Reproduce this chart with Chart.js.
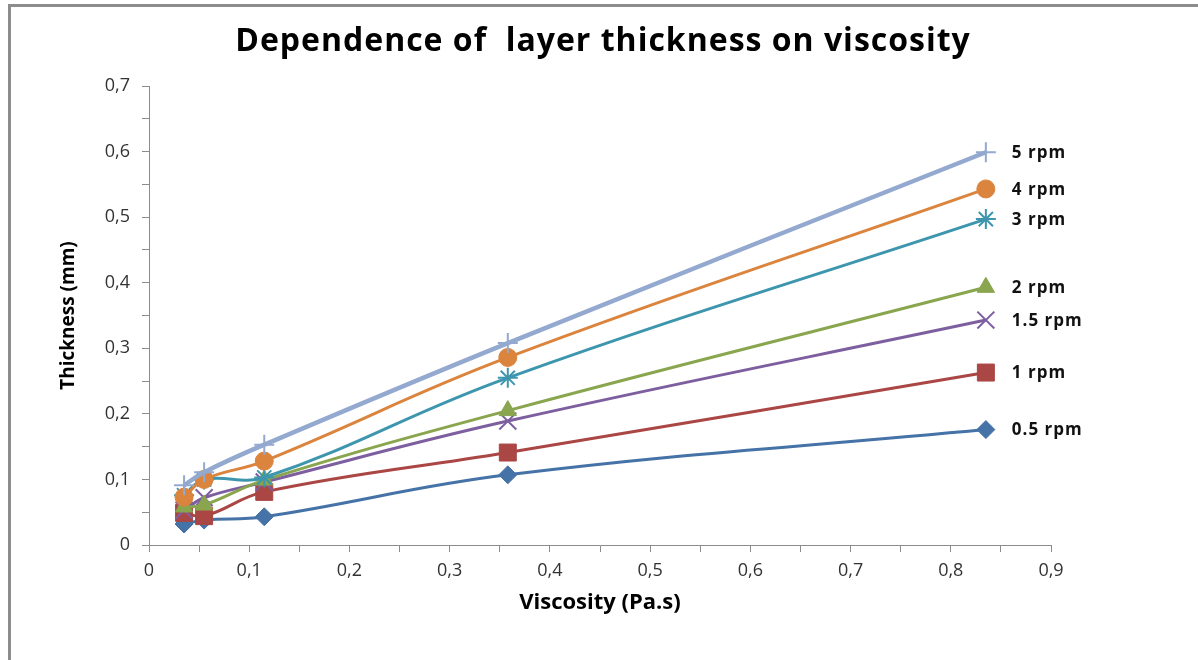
<!DOCTYPE html>
<html>
<head>
<meta charset="utf-8">
<script src="https://cdn.jsdelivr.net/npm/chart.js@4.4.1/dist/chart.umd.min.js"></script>
<style>
  html, body { margin: 0; padding: 0; background: #fff; overflow: hidden; }
  #frame {
    position: absolute; left: 8px; top: 4px; width: 1400px; height: 900px;
    border: 3px solid #8c8c8c; box-sizing: border-box; pointer-events: none;
  }
  #wrap { position: absolute; left: 0; top: 0; width: 1198px; height: 660px; }
</style>
</head>
<body>
<div id="wrap"><canvas id="chart" width="1198" height="660"></canvas></div>
<div id="frame"></div>
<script>
// Viscosity values (Pa.s) shared by all series
const viscosity = [0.035, 0.055, 0.115, 0.358, 0.835];

const seriesNames = ['0.5 rpm', '1 rpm', '1.5 rpm', '2 rpm', '3 rpm', '4 rpm', '5 rpm'];

// Thickness (mm)
const rpm05 = [0.032, 0.038, 0.043, 0.107, 0.176];
const rpm1  = [0.049, 0.044, 0.081, 0.141, 0.263];
const rpm15 = [0.053, 0.072, 0.096, 0.189, 0.343];
const rpm2  = [0.058, 0.061, 0.099, 0.205, 0.393];
const rpm3  = [0.076, 0.100, 0.103, 0.255, 0.497];
const rpm4  = [0.073, 0.100, 0.128, 0.286, 0.543];
const rpm5  = [0.091, 0.111, 0.153, 0.308, 0.599];

const values = [rpm05, rpm1, rpm15, rpm2, rpm3, rpm4, rpm5];
const colors = ['#4572a7', '#aa4643', '#7d5fa0', '#89a54e', '#3d96ae', '#db843d', '#93a9cf'];
const markers = ['rectRot', 'rect', 'crossRot', 'triangle', 'star', 'circle', 'cross'];
const radii = [9, 12, 12, 10, 10, 9, 10];

const chartTitle = 'Dependence of  layer thickness on viscosity';

function commaLabel(v) {
  const r = Math.round(v * 100);
  if (r % 10 !== 0) return '';
  if (r === 0) return '0';
  return (r / 100).toFixed(1).replace('.', ',');
}

// title centred on the whole picture + "x rpm" text next to the last point of each line
const extraText = {
  id: 'extraText',
  afterDatasetsDraw(chart) {
    const ctx = chart.ctx;
    ctx.save();
    ctx.fillStyle = '#000';
    ctx.textBaseline = 'middle';

    ctx.font = 'bold 32px "Open Sans"';
    ctx.letterSpacing = '1px';
    ctx.textAlign = 'center';
    ctx.fillText(chartTitle, 603, 42);

    ctx.font = 'bold 17px "Open Sans"';
    ctx.letterSpacing = '1px';
    ctx.textAlign = 'left';
    ctx.fillStyle = '#111';
    chart.data.datasets.forEach((ds, i) => {
      const meta = chart.getDatasetMeta(i);
      const pt = meta.data[meta.data.length - 1];
      ctx.fillText(ds.label, pt.x + 26, pt.y + 1);
    });
    ctx.restore();
  }
};

const datasets = seriesNames.map((name, i) => ({
  label: name,
  data: viscosity.map((x, j) => ({ x: x, y: values[i][j] })),
  borderColor: colors[i],
  backgroundColor: colors[i],
  pointBackgroundColor: colors[i],
  pointBorderColor: colors[i],
  pointStyle: markers[i],
  pointRadius: radii[i],
  pointBorderWidth: ['cross', 'crossRot', 'star'].includes(markers[i]) ? 2 : 1,
  borderWidth: i === 6 ? 4.5 : 3,
  tension: 0.4,
  fill: false,
  order: seriesNames.length - i
}));

new Chart(document.getElementById('chart'), {
  type: 'scatter',
  data: { datasets: datasets },
  options: {
    responsive: false,
    animation: false,
    showLine: true,
    layout: { padding: { left: 55, right: 147, top: 86, bottom: 40 } },
    plugins: {
      legend: { display: false },
      tooltip: { enabled: false },
      title: { display: false }
    },
    scales: {
      x: {
        type: 'linear',
        min: 0, max: 0.9,
        afterFit(scale) { scale.height = 75; },
        ticks: {
          stepSize: 0.05, autoSkip: false, maxRotation: 0,
          color: '#333', font: { family: 'Open Sans', size: 18 },
          padding: 8,
          callback: v => commaLabel(v)
        },
        grid: { drawOnChartArea: false, drawTicks: true, tickLength: 7, color: '#8c8c8c' },
        border: { color: '#8c8c8c', width: 1 },
        title: {
          display: true, text: 'Viscosity (Pa.s)', color: '#000',
          font: { family: 'Open Sans', size: 22, weight: 'bold' },
          padding: { top: 0 }
        }
      },
      y: {
        type: 'linear',
        min: 0, max: 0.7,
        afterFit(scale) { scale.width = 94; },
        ticks: {
          stepSize: 0.05, autoSkip: false,
          color: '#333', font: { family: 'Open Sans', size: 18 },
          padding: 12,
          callback: v => commaLabel(v)
        },
        grid: { drawOnChartArea: false, drawTicks: true, tickLength: 7, color: '#8c8c8c' },
        border: { color: '#8c8c8c', width: 1 },
        title: {
          display: true, text: 'Thickness (mm)', color: '#000',
          font: { family: 'Open Sans', size: 19, weight: 'bold' },
          padding: { top: 2 }
        }
      }
    }
  },
  plugins: [extraText]
});
</script>
</body>
</html>
